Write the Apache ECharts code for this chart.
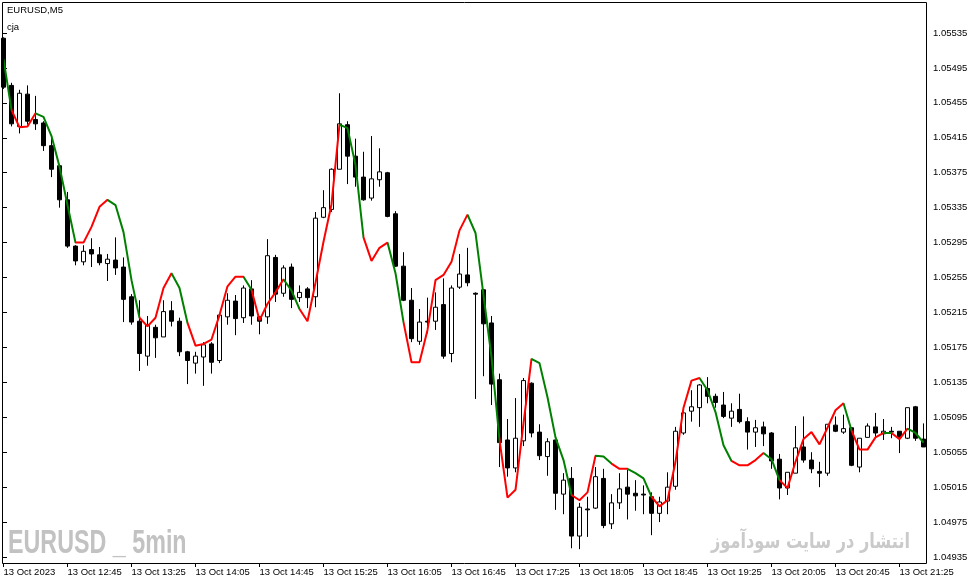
<!DOCTYPE html>
<html>
<head>
<meta charset="utf-8">
<title>EURUSD,M5</title>
<script src="https://cdn.jsdelivr.net/npm/echarts@6/dist/echarts.min.js"></script>
<style>
  html, body { margin: 0; padding: 0; background: #fff; }
  #chart { width: 972px; height: 584px; }
</style>
</head>
<body>
<div id="chart"></div>
<script>
// EURUSD M5, 13 Oct 2023, one bar every 5 minutes from 12:05
const tickLabels = [
  '13 Oct 2023', '13 Oct 12:45', '13 Oct 13:25', '13 Oct 14:05', '13 Oct 14:45',
  '13 Oct 15:25', '13 Oct 16:05', '13 Oct 16:45', '13 Oct 17:25', '13 Oct 18:05',
  '13 Oct 18:45', '13 Oct 19:25', '13 Oct 20:05', '13 Oct 20:45', '13 Oct 21:25'
]

const opens = [
  1.05529, 1.05475, 1.05428, 1.05465, 1.05436, 1.05432, 1.05406, 1.05383, 1.05344, 1.05291,
  1.05273, 1.05287, 1.05281, 1.05271, 1.05275, 1.05267, 1.05233, 1.05205, 1.05165, 1.05198,
  1.05187, 1.05217, 1.05205, 1.05170, 1.05157, 1.05164, 1.05179, 1.05160, 1.05210, 1.05228,
  1.05209, 1.05242, 1.05210, 1.05210, 1.05278, 1.05237, 1.05267, 1.05232, 1.05242, 1.05233,
  1.05324, 1.05333, 1.05379, 1.05430, 1.05394, 1.05370, 1.05346, 1.05367, 1.05375, 1.05328,
  1.05268, 1.05229, 1.05182, 1.05205, 1.05205, 1.05224, 1.05168, 1.05244, 1.05258, 1.05237,
  1.05241, 1.05203, 1.05138, 1.05069, 1.05037, 1.05068, 1.05134, 1.05078, 1.05050, 1.05069,
  1.05007, 1.05025, 1.04959, 1.04990, 1.04991, 1.05025, 1.04973, 1.04997, 1.05015, 1.05008,
  1.05007, 1.05004, 1.04985, 1.04999, 1.05016, 1.05077, 1.05102, 1.05106, 1.05128, 1.05119,
  1.05109, 1.05094, 1.05104, 1.05090, 1.05078, 1.05084, 1.05077, 1.05047, 1.05014, 1.05031,
  1.05061, 1.05046, 1.05033, 1.05031, 1.05086, 1.05078, 1.05083, 1.05038, 1.05072, 1.05084,
  1.05076, 1.05079, 1.05079, 1.05071, 1.05107, 1.05070
]
const closes = [
  1.05473, 1.05431, 1.05466, 1.05434, 1.05431, 1.05406, 1.05379, 1.05344, 1.05291, 1.05274,
  1.05285, 1.05282, 1.05272, 1.05276, 1.05266, 1.05230, 1.05204, 1.05168, 1.05201, 1.05186,
  1.05216, 1.05205, 1.05170, 1.05160, 1.05165, 1.05178, 1.05158, 1.05212, 1.05229, 1.05208,
  1.05243, 1.05211, 1.05205, 1.05280, 1.05236, 1.05266, 1.05230, 1.05238, 1.05232, 1.05323,
  1.05335, 1.05379, 1.05431, 1.05394, 1.05370, 1.05344, 1.05368, 1.05376, 1.05325, 1.05268,
  1.05229, 1.05185, 1.05204, 1.05204, 1.05221, 1.05165, 1.05243, 1.05259, 1.05249, 1.05236,
  1.05202, 1.05133, 1.05066, 1.05037, 1.05071, 1.05137, 1.05077, 1.05051, 1.05067, 1.05008,
  1.05023, 1.04959, 1.04992, 1.04989, 1.05027, 1.04971, 1.04997, 1.05013, 1.05007, 1.05005,
  1.05006, 1.04985, 1.04998, 1.05015, 1.05079, 1.05100, 1.05107, 1.05132, 1.05119, 1.05112,
  1.05096, 1.05102, 1.05090, 1.05078, 1.05083, 1.05076, 1.05045, 1.05014, 1.05032, 1.05060,
  1.05046, 1.05036, 1.05031, 1.05087, 1.05079, 1.05082, 1.05040, 1.05071, 1.05085, 1.05077,
  1.05079, 1.05078, 1.05072, 1.05106, 1.05071, 1.05061
]
const lows = [
  1.05471, 1.05428, 1.05420, 1.05430, 1.05424, 1.05400, 1.05370, 1.05335, 1.05289, 1.05269,
  1.05269, 1.05267, 1.05269, 1.05251, 1.05258, 1.05204, 1.05201, 1.05148, 1.05154, 1.05163,
  1.05187, 1.05199, 1.05165, 1.05133, 1.05145, 1.05131, 1.05145, 1.05157, 1.05201, 1.05189,
  1.05203, 1.05201, 1.05190, 1.05202, 1.05227, 1.05233, 1.05220, 1.05227, 1.05220, 1.05221,
  1.05323, 1.05330, 1.05379, 1.05362, 1.05359, 1.05343, 1.05343, 1.05359, 1.05324, 1.05267,
  1.05228, 1.05181, 1.05178, 1.05191, 1.05195, 1.05162, 1.05158, 1.05242, 1.05245, 1.05116,
  1.05142, 1.05109, 1.05038, 1.05027, 1.05032, 1.05062, 1.05072, 1.05046, 1.05028, 1.04989,
  1.04984, 1.04945, 1.04944, 1.04958, 1.04990, 1.04968, 1.04967, 1.04990, 1.04978, 1.04988,
  1.04984, 1.04960, 1.04975, 1.04984, 1.05012, 1.05075, 1.05090, 1.05084, 1.05111, 1.05106,
  1.05094, 1.05084, 1.05088, 1.05058, 1.05061, 1.05062, 1.05036, 1.05001, 1.05006, 1.05031,
  1.05043, 1.05031, 1.05015, 1.05028, 1.05078, 1.05076, 1.05039, 1.05032, 1.05072, 1.05072,
  1.05069, 1.05071, 1.05054, 1.05070, 1.05068, 1.05061
]
const highs = [
  1.05530, 1.05478, 1.05470, 1.05475, 1.05463, 1.05434, 1.05417, 1.05384, 1.05353, 1.05292,
  1.05292, 1.05300, 1.05290, 1.05282, 1.05301, 1.05278, 1.05236, 1.05229, 1.05211, 1.05201,
  1.05229, 1.05228, 1.05209, 1.05171, 1.05170, 1.05181, 1.05181, 1.05212, 1.05237, 1.05235,
  1.05246, 1.05252, 1.05211, 1.05299, 1.05281, 1.05269, 1.05271, 1.05246, 1.05244, 1.05330,
  1.05355, 1.05380, 1.05466, 1.05434, 1.05414, 1.05399, 1.05417, 1.05403, 1.05376, 1.05331,
  1.05284, 1.05243, 1.05219, 1.05232, 1.05238, 1.05254, 1.05246, 1.05282, 1.05289, 1.05238,
  1.05242, 1.05211, 1.05145, 1.05093, 1.05117, 1.05140, 1.05135, 1.05087, 1.05071, 1.05069,
  1.05031, 1.05038, 1.04997, 1.05004, 1.05038, 1.05036, 1.05007, 1.05031, 1.05035, 1.05023,
  1.05017, 1.05009, 1.05004, 1.05032, 1.05084, 1.05106, 1.05126, 1.05133, 1.05141, 1.05122,
  1.05124, 1.05111, 1.05122, 1.05095, 1.05092, 1.05090, 1.05078, 1.05053, 1.05032, 1.05085,
  1.05096, 1.05055, 1.05044, 1.05087, 1.05096, 1.05098, 1.05083, 1.05071, 1.05088, 1.05100,
  1.05093, 1.05084, 1.05079, 1.05106, 1.05108, 1.05088
]

// cja indicator line and the bars where its colour flips (starts green)
const cja = [
  1.05505, 1.05447, 1.05427, 1.05428, 1.05443, 1.05439, 1.05417, 1.05382, 1.05338, 1.05295,
  1.05295, 1.05313, 1.05336, 1.05344, 1.05338, 1.05307, 1.05252, 1.05209, 1.05199, 1.05209,
  1.05243, 1.05260, 1.05243, 1.05203, 1.05177, 1.05179, 1.05184, 1.05212, 1.05245, 1.05256,
  1.05256, 1.05241, 1.05206, 1.05225, 1.05238, 1.05253, 1.05240, 1.05219, 1.05205, 1.05249,
  1.05296, 1.05339, 1.05430, 1.05426, 1.05384, 1.05301, 1.05274, 1.05289, 1.05295, 1.05260,
  1.05204, 1.05158, 1.05158, 1.05195, 1.05252, 1.05258, 1.05273, 1.05309, 1.05327, 1.05306,
  1.05235, 1.05164, 1.05069, 1.05003, 1.05012, 1.05088, 1.05162, 1.05157, 1.05118, 1.05072,
  1.05046, 1.05006, 1.05000, 1.05009, 1.05051, 1.05050, 1.05042, 1.05036, 1.05036, 1.05031,
  1.05025, 1.05004, 1.04993, 1.05000, 1.05044, 1.05106, 1.05137, 1.05140, 1.05126, 1.05101,
  1.05063, 1.05045, 1.05040, 1.05040, 1.05046, 1.05054, 1.05047, 1.05023, 1.05014, 1.05044,
  1.05070, 1.05078, 1.05064, 1.05083, 1.05103, 1.05111, 1.05080, 1.05058, 1.05058, 1.05072,
  1.05077, 1.05077, 1.05070, 1.05082, 1.05077, 1.05066
]
const cjaTurns = [1, 4, 9, 13, 17, 21, 23, 30, 31, 35, 37, 42, 45, 48, 50, 58, 62, 66, 71, 74, 76, 78, 81, 87, 91, 95, 97, 105, 106, 110, 111, 113]

const categories = []
for (let i = 0; i < opens.length; i++) {
  const m = 12 * 60 + 5 + 5 * i
  categories.push('13 Oct ' + String(Math.floor(m / 60)).padStart(2, '0') + ':' + String(m % 60).padStart(2, '0'))
}
const candles = opens.map((o, i) => [o, closes[i], lows[i], highs[i]])

const bounds = [0].concat(cjaTurns, [cja.length - 1])
const pieces = []
for (let k = 0; k < bounds.length - 1; k++) {
  const p = { gte: bounds[k], color: k % 2 === 0 ? '#008000' : '#ff0000' }
  if (k === bounds.length - 2) p.lte = bounds[k + 1]
  else p.lt = bounds[k + 1]
  pieces.push(p)
}

const font = 'Liberation Sans'
const chart = echarts.init(document.getElementById('chart'))

chart.setOption({
  animation: false,
  backgroundColor: '#fff',
  title: [
    { text: 'EURUSD,M5', left: 7, top: 5, padding: 0,
      textStyle: { fontSize: 9.5, fontWeight: 'normal', color: '#000', fontFamily: font } },
    { text: 'cja', left: 7, top: 22, padding: 0,
      textStyle: { fontSize: 9.5, fontWeight: 'normal', color: '#000', fontFamily: font } }
  ],
  grid: [
    // bars: one 8px slot each
    { left: -0.5, right: 44.5, top: 3, bottom: 21, outerBoundsMode: 'none', containLabel: false },
    // price scale
    { left: 3, right: 45, top: 33, bottom: 27, outerBoundsMode: 'none', containLabel: false },
    // frame
    { left: 2.5, right: 45.5, top: 2.5, bottom: 20.5, show: true, borderColor: '#000', borderWidth: 1,
      backgroundColor: 'transparent', outerBoundsMode: 'none', containLabel: false }
  ],
  xAxis: [
    {
      type: 'category', gridIndex: 0, data: categories, boundaryGap: true,
      axisLine: { show: false },
      axisTick: { show: true, interval: 7, alignWithLabel: true, length: 4, lineStyle: { color: '#000' } },
      axisLabel: {
        interval: 7, align: 'left', margin: 4, color: '#000', fontSize: 9.5, fontFamily: font,
        formatter: (v, i) => tickLabels[i / 8] || ''
      },
      splitLine: { show: false }
    },
    { type: 'value', gridIndex: 1, show: false },
    { type: 'value', gridIndex: 2, show: false }
  ],
  yAxis: [
    { type: 'value', gridIndex: 0, min: 1.0492814, max: 1.0556935, show: false },
    {
      type: 'value', gridIndex: 1, position: 'right',
      min: 1.04935, max: 1.05535, interval: 0.0004,
      axisLine: { show: false },
      axisTick: { show: true, length: 4, lineStyle: { color: '#000' } },
      axisLabel: { margin: 6, color: '#000', fontSize: 9.5, fontFamily: font, formatter: v => v.toFixed(5) },
      splitLine: { show: false }
    },
    { type: 'value', gridIndex: 2, show: false }
  ],
  visualMap: {
    type: 'piecewise', show: false, dimension: 0, seriesIndex: 1, pieces: pieces
  },
  series: [
    {
      name: 'EURUSD', type: 'candlestick', xAxisIndex: 0, yAxisIndex: 0,
      data: candles, barWidth: 4, clip: false,
      itemStyle: {
        color: '#fff', color0: '#000',
        borderColor: '#000', borderColor0: '#000', borderColorDoji: '#000', borderWidth: 1
      }
    },
    {
      name: 'cja', type: 'line', xAxisIndex: 0, yAxisIndex: 0,
      data: cja, symbol: 'none', z: 5,
      lineStyle: { width: 2 }
    }
  ],
  graphic: [
    {
      type: 'text', x: 8, y: 543.5, scaleX: 0.685, silent: true,
      style: { x: 0, y: 0, text: 'EURUSD _ 5min', fill: '#c2c2c2', verticalAlign: 'middle',
        font: "bold 34px 'Liberation Sans Narrow', 'Liberation Sans', sans-serif" }
    },
    {
      type: 'text', x: 910, y: 543, scaleX: 0.77, silent: true,
      style: { x: 0, y: 0, text: 'انتشار در سایت سودآموز', fill: '#cacaca', align: 'right', verticalAlign: 'middle',
        font: "bold 21px 'DejaVu Sans', sans-serif" }
    }
  ]
})

window.addEventListener('resize', () => {
  chart.resize()
})
</script>
</body>
</html>
